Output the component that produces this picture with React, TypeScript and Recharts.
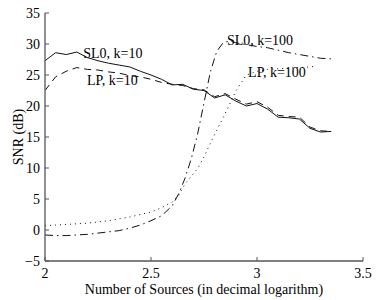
import { LineChart, Line, XAxis, YAxis, ReferenceDot } from 'recharts'

const xTicks = [2, 2.5, 3, 3.5]
const yTicks = [-5, 0, 5, 10, 15, 20, 25, 30, 35]

// k = 10 runs, sampled on a common grid
const k10X = [2.0, 2.05, 2.1, 2.15, 2.2, 2.25, 2.3, 2.35, 2.4, 2.45, 2.5, 2.55, 2.6, 2.65,
  2.7, 2.75, 2.8, 2.85, 2.9, 2.95, 3.0, 3.05, 3.1, 3.15, 3.2, 3.25, 3.3, 3.35]
const sl0K10 = [27.3, 28.6, 28.3, 28.7, 27.8, 27.3, 26.9, 26.6, 26.3, 25.6, 25.0, 24.3, 23.4, 23.5,
  22.7, 22.5, 21.3, 21.8, 20.8, 20.0, 20.4, 19.5, 18.2, 18.1, 17.9, 16.4, 15.8, 15.9]
const lpK10 = [22.5, 24.7, 25.6, 26.2, 25.9, 25.8, 25.5, 25.3, 24.9, 24.7, 24.3, 23.8, 23.5, 23.3,
  22.8, 22.6, 21.5, 22.0, 21.1, 20.3, 20.7, 19.8, 18.5, 18.3, 18.2, 16.6, 16.0, 15.9]

// k = 100 runs
const sl0K100X = [2.0, 2.05, 2.1, 2.15, 2.2, 2.25, 2.3, 2.35, 2.4, 2.45, 2.5, 2.55, 2.6, 2.63,
  2.66, 2.69, 2.72, 2.75, 2.78, 2.81, 2.84, 2.87, 2.9, 2.95, 3.0, 3.05, 3.1, 3.15, 3.2, 3.25, 3.3, 3.35]
const sl0K100 = [-0.8, -0.9, -0.9, -0.8, -0.7, -0.5, -0.3, -0.1, 0.3, 0.8, 1.5, 2.3, 3.9, 5.8,
  8.3, 11.5, 15.5, 20.5, 25.5, 28.8, 30.2, 30.5, 30.2, 29.9, 29.6, 29.4, 29.0, 28.6, 28.3, 28.0, 27.7, 27.6]
const lpK100X = [2.0, 2.05, 2.1, 2.15, 2.2, 2.25, 2.3, 2.35, 2.4, 2.45, 2.5, 2.55, 2.6, 2.63,
  2.66, 2.69, 2.72, 2.75, 2.78, 2.81, 2.84, 2.87, 2.9, 2.95, 3.0, 3.05, 3.1, 3.15, 3.2, 3.25, 3.28]
const lpK100 = [0.7, 0.8, 0.9, 1.0, 1.1, 1.3, 1.5, 1.8, 2.1, 2.5, 2.9, 3.6, 4.5, 5.6,
  7.4, 8.7, 9.9, 11.8, 14.0, 16.1, 18.1, 20.2, 22.4, 25.0, 25.6, 25.9, 26.0, 26.1, 26.2, 26.3, 26.4]

const notes = [
  { text: 'SL0, k=10', x: 2.18, y: 28.5 },
  { text: 'LP, k=10', x: 2.198, y: 24.2 },
  { text: 'SL0, k=100', x: 2.858, y: 30.6 },
  { text: 'LP, k=100', x: 2.958, y: 25.5 },
]

const toPoints = (xs: number[], ys: number[]) => xs.map((x, i) => ({ x, y: ys[i] }))

const FONT = "'Liberation Serif', 'Times New Roman', serif"
const AXIS = '#555'
const INK = '#111'
const TICK_LEN = 4

const fmt = (v: number) => (v < 0 ? '\u2212' + Math.abs(v) : String(v))

const BottomTick = ({ x, y, payload }: any) => (
  <g>
    <line x1={x} x2={x} y1={y - 7} y2={y - 7 - TICK_LEN} stroke={AXIS} />
    <text x={x} y={y} dy="0.71em" textAnchor="middle" fontFamily={FONT} fontSize={14} fill="#000">
      {fmt(payload.value)}
    </text>
  </g>
)

const LeftTick = ({ x, y, payload }: any) => (
  <g>
    <line x1={x + 5} x2={x + 5 + TICK_LEN} y1={y} y2={y} stroke={AXIS} />
    <text x={x} y={y} dy="0.35em" textAnchor="end" fontFamily={FONT} fontSize={14} fill="#000">
      {fmt(payload.value)}
    </text>
  </g>
)

const TopTick = ({ x, y }: any) => (
  <line x1={x} x2={x} y1={y} y2={y + TICK_LEN} stroke={AXIS} />
)

const RightTick = ({ x, y }: any) => (
  <line x1={x} x2={x - TICK_LEN} y1={y} y2={y} stroke={AXIS} />
)

export default function App() {
  return (
    <div style={{ position: 'absolute', left: 0, top: 0, background: '#fff' }}>
      <LineChart width={378} height={300} margin={{ top: 13, right: 15, bottom: 0, left: 0 }}>
        <XAxis
          dataKey="x"
          type="number"
          domain={[2, 3.5]}
          ticks={xTicks}
          interval={0}
          allowDataOverflow
          height={39}
          tickSize={0}
          tickMargin={7}
          tick={<BottomTick />}
          axisLine={{ stroke: AXIS, strokeWidth: 1.3 }}
          label={{
            value: 'Number of Sources (in decimal logarithm)',
            position: 'insideBottom',
            offset: 6,
            fontFamily: FONT,
            fontSize: 14,
            fill: '#000',
          }}
        />
        <XAxis
          xAxisId="top"
          orientation="top"
          type="number"
          domain={[2, 3.5]}
          ticks={xTicks}
          interval={0}
          allowDataOverflow
          height={0}
          tickSize={0}
          tickMargin={0}
          tick={<TopTick />}
          axisLine={{ stroke: AXIS, strokeWidth: 1.3 }}
        />
        <YAxis
          type="number"
          domain={[-5, 35]}
          ticks={yTicks}
          interval={0}
          allowDataOverflow
          width={45}
          tickSize={0}
          tickMargin={5}
          tick={<LeftTick />}
          axisLine={{ stroke: AXIS, strokeWidth: 1.3 }}
          label={{
            value: 'SNR (dB)',
            angle: -90,
            position: 'center',
            dx: -4,
            fontFamily: FONT,
            fontSize: 14,
            fill: '#000',
          }}
        />
        <YAxis
          yAxisId="right"
          orientation="right"
          type="number"
          domain={[-5, 35]}
          ticks={yTicks}
          interval={0}
          allowDataOverflow
          width={0}
          tickSize={0}
          tickMargin={0}
          tick={<RightTick />}
          axisLine={{ stroke: AXIS, strokeWidth: 1.3 }}
        />
        <Line data={toPoints(k10X, sl0K10)} dataKey="y" stroke={INK} strokeWidth={1}
          dot={false} isAnimationActive={false} />
        <Line data={toPoints(k10X, lpK10)} dataKey="y" stroke={INK} strokeWidth={1}
          strokeDasharray="7 5" dot={false} isAnimationActive={false} />
        <Line data={toPoints(sl0K100X, sl0K100)} dataKey="y" stroke={INK} strokeWidth={1}
          strokeDasharray="8 4 1.5 4" dot={false} isAnimationActive={false} />
        <Line data={toPoints(lpK100X, lpK100)} dataKey="y" stroke={INK} strokeWidth={1}
          strokeDasharray="1 4" dot={false} isAnimationActive={false} />
        {notes.map((n) => (
          <ReferenceDot
            key={n.text}
            x={n.x}
            y={n.y}
            r={0}
            fill="none"
            stroke="none"
            label={{ value: n.text, position: 'right', offset: 0, fontFamily: FONT, fontSize: 14, fill: '#000' }}
          />
        ))}
      </LineChart>
    </div>
  )
}
